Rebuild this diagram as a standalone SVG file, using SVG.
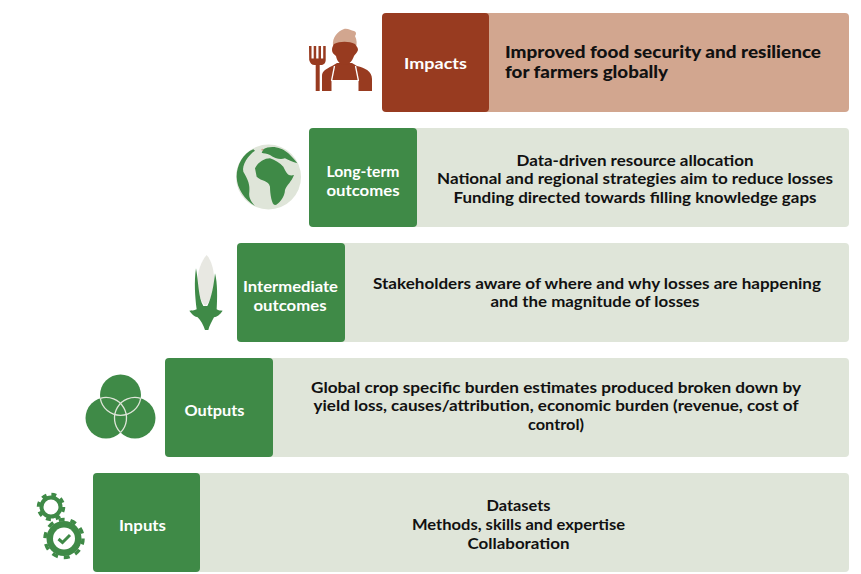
<svg xmlns="http://www.w3.org/2000/svg" width="861" height="574" viewBox="0 0 861 574">
<style>
text{font-family:"Lato","Liberation Sans",sans-serif;font-weight:700;text-anchor:middle}
.t{font-size:15px;fill:#111}
.m{font-size:17px;font-weight:900;text-anchor:start}
.h{font-size:15px;fill:#fff}
.g{fill:#3f8a47}.l{fill:#dfe5d9}.b{fill:#983b20}.p{fill:#d2a68f}
</style>
<rect width="861" height="574" fill="#fff"/>
<g id="impacts">
<rect class="p" x="470" y="13" width="379" height="99" rx="4"/>
<rect class="b" x="382" y="13" width="107" height="99" rx="4"/>
<text class="h" x="435.500" y="69" textLength="63" lengthAdjust="spacingAndGlyphs">Impacts</text>
<text class="t m" x="505" y="58" textLength="316" lengthAdjust="spacingAndGlyphs">Improved food security and resilience</text>
<text class="t m" x="505" y="78" textLength="163" lengthAdjust="spacingAndGlyphs">for farmers globally</text>
<g id="farmer-icon">
<path class="b" d="M322 91V76C322 71 326 69 332 66L337 63H352L357 66C365 68 372 71 372 79V91Z"/>
<path d="M331.500 91V80H358.500V91Z" fill="#fff"/>
<path d="M331.500 81L334.500 66M358.500 81L355.500 66" stroke="#fff" stroke-width="1.300" fill="none"/>
<path class="p" d="M333 46C332 37 338 31 344 29C348 28 351 31 354 31C357 32 356 35 355 36C357 40 357 44 356 47C349 42 339 42 333 46Z"/>
<path class="b" d="M334 44C340 41 349 41 355 44C356 46 358 47 358 50C357 53 355 54 354 56C352 62 348 65 345 65C341 65 337 62 336 56C334 54 332 53 332 50C332 47 333 46 334 44Z"/>
<path class="b" d="M309 46h2.500v12.500h2.200V46h2.500v12.500h2.300V46h2.500v12.500h2.200V46h2.500v14c0 3-2 5-5 5h-1v26h-4V65h-1c-3 0-4.700-2-5.500-5Z"/>
</g>
</g>
<g id="long-term">
<rect class="l" x="400" y="128" width="449" height="99" rx="4"/>
<rect class="g" x="309" y="128" width="108" height="99" rx="4"/>
<text class="h" x="363" y="177" textLength="73" lengthAdjust="spacingAndGlyphs">Long-term</text>
<text class="h" x="363" y="196" textLength="73" lengthAdjust="spacingAndGlyphs">outcomes</text>
<text class="t" x="635" y="166" textLength="237" lengthAdjust="spacingAndGlyphs">Data-driven resource allocation</text>
<text class="t" x="635" y="184" textLength="396" lengthAdjust="spacingAndGlyphs">National and regional strategies aim to reduce losses</text>
<text class="t" x="635" y="203" textLength="363" lengthAdjust="spacingAndGlyphs">Funding directed towards filling knowledge gaps</text>
<g id="globe-icon">
<circle class="l" cx="268.500" cy="177" r="32.500"/>
<g transform="translate(220 130) scale(.3333)">
<path class="g" d="M105 115C115 95 135 85 150 85C165 90 180 100 190 110C200 130 205 140 222 135C215 155 200 165 195 180C195 200 175 225 165 225C155 225 150 190 150 170C145 150 125 155 110 140Z"/>
<path class="g" d="M130 58C150 45 185 50 205 70C215 80 225 90 232 100C215 95 205 90 195 85C180 90 165 85 150 75C140 70 130 70 125 68Z"/>
<path class="g" d="M100 58C70 70 50 105 50 140C50 175 75 210 105 228C95 215 85 205 88 185C90 165 85 150 70 125C65 105 85 75 105 62Z"/>
<circle class="p" cx="127" cy="59" r="3"/>
</g>
</g>
</g>
<g id="intermediate">
<rect class="l" x="330" y="243" width="519" height="99" rx="4"/>
<rect class="g" x="237" y="243" width="108" height="99" rx="4"/>
<text class="h" x="290.500" y="292" textLength="95" lengthAdjust="spacingAndGlyphs">Intermediate</text>
<text class="h" x="290" y="311" textLength="73" lengthAdjust="spacingAndGlyphs">outcomes</text>
<text class="t" x="597" y="289" textLength="448" lengthAdjust="spacingAndGlyphs">Stakeholders aware of where and why losses are happening</text>
<text class="t" x="595" y="307" textLength="209" lengthAdjust="spacingAndGlyphs">and the magnitude of losses</text>
<g id="corn-icon" transform="translate(170 240) scale(.3333)">
<path d="M110 45C125 60 135 100 132 130C128 165 118 190 106 197C95 190 85 165 82 130C80 100 95 60 110 45Z" fill="#e8e8e2"/>
<path class="g" d="M78 85C85 120 85 175 100 198L112 198C125 175 132 130 135 100C143 130 142 175 140 208C145 212 152 212 158 212C150 225 140 230 132 232C125 245 118 258 115 270L105 270C100 255 92 240 83 232C72 230 65 222 58 212C65 212 72 212 80 208C75 170 72 125 78 85Z"/>
</g>
</g>
<g id="outputs">
<rect class="l" x="255" y="358" width="594" height="99" rx="4"/>
<rect class="g" x="165" y="358" width="108" height="99" rx="4"/>
<text class="h" x="214.500" y="416" textLength="60" lengthAdjust="spacingAndGlyphs">Outputs</text>
<text class="t" x="556" y="393" textLength="490" lengthAdjust="spacingAndGlyphs">Global crop specific burden estimates produced broken down by</text>
<text class="t" x="556" y="411" textLength="485" lengthAdjust="spacingAndGlyphs">yield loss, causes/attribution, economic burden (revenue, cost of</text>
<text class="t" x="556" y="430" textLength="56" lengthAdjust="spacingAndGlyphs">control)</text>
<g id="venn-icon">
<circle class="g" cx="120.500" cy="395" r="20.500"/>
<circle class="g" cx="106" cy="418" r="20.500"/>
<circle class="g" cx="135" cy="418" r="20.500"/>
<g fill="none" stroke="#dfe5d9" stroke-width="1.300">
<path d="M100.300 398.300A20.500 20.500 0 0 1 120.500 432.500"/>
<path d="M140.700 398.300A20.500 20.500 0 0 0 120.500 432.500"/>
<path d="M100.300 398.300A20.500 20.500 0 0 0 140.700 398.300"/>
</g>
</g>
</g>
<g id="inputs">
<rect class="l" x="185" y="473" width="664" height="99" rx="4"/>
<rect class="g" x="93" y="473" width="107" height="99" rx="4"/>
<text class="h" x="142.500" y="531" textLength="47" lengthAdjust="spacingAndGlyphs">Inputs</text>
<text class="t" x="518.500" y="511" textLength="64" lengthAdjust="spacingAndGlyphs">Datasets</text>
<text class="t" x="518.500" y="530" textLength="213" lengthAdjust="spacingAndGlyphs">Methods, skills and expertise</text>
<text class="t" x="518.500" y="549" textLength="102" lengthAdjust="spacingAndGlyphs">Collaboration</text>
<g id="gears-icon">
<circle cx="51" cy="507" r="9.500" fill="none" stroke="#3f8a47" stroke-width="4"/>
<circle cx="51" cy="507" r="12.500" fill="none" stroke="#3f8a47" stroke-width="3.500" stroke-dasharray="4.900 4.920"/>
<circle class="g" cx="64" cy="538.500" r="17.500"/>
<circle cx="64" cy="538.500" r="19" fill="none" stroke="#3f8a47" stroke-width="3.500" stroke-dasharray="6 5.940"/>
<circle cx="64" cy="538.500" r="11" fill="#fff"/>
<path d="M58.500 539L62.500 542.500L70 535" fill="none" stroke="#3f8a47" stroke-width="3"/>
</g>
</g>
</svg>
